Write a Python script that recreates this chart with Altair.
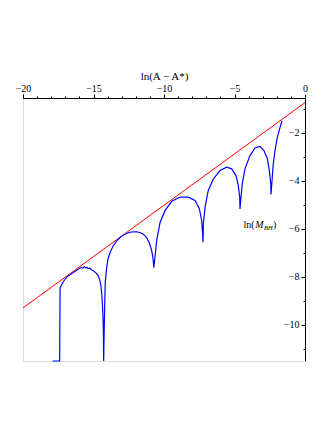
import altair as alt
import pandas as pd

# Blue curve: ln(M_BH) vs ln(A - A*)
blue_x = [-17.9, -17.40, -17.37, -17.3, -17.14, -16.9, -16.7, -16.55, -16.4, -16.19,
          -16.05, -15.95, -15.84, -15.75, -15.65, -15.55, -15.48, -15.38, -15.28, -15.13,
          -15.0, -14.89, -14.75, -14.66, -14.56, -14.49, -14.42, -14.38, -14.33, -14.3,
          -14.28, -14.25, -14.2, -14.17, -14.1, -14.04, -13.95, -13.8, -13.6, -13.35,
          -13.12, -12.9, -12.65, -12.4, -12.18, -11.95, -11.7, -11.5, -11.35, -11.2,
          -11.06, -10.95, -10.87, -10.8, -10.76, -10.72,
          -10.64, -10.52, -10.28, -9.93, -9.45, -8.87, -8.28, -7.8, -7.49, -7.33, -7.26, -7.23,
          -7.21, -7.09, -6.86, -6.5, -6.03, -5.55, -5.2, -4.89, -4.73, -4.63, -4.61,
          -4.54, -4.45, -4.26, -3.9, -3.55, -3.19, -2.91, -2.67, -2.53, -2.43, -2.41,
          -2.32, -2.25, -2.13, -1.96, -1.77, -1.63]
blue_y = [-11.5, -11.5, -8.45, -8.38, -8.2, -8.0, -7.92, -7.87, -7.8, -7.72,
          -7.66, -7.63, -7.6, -7.64, -7.58, -7.62, -7.6, -7.66, -7.63, -7.7,
          -7.75, -7.8, -7.88, -7.96, -8.12, -8.3, -8.65, -9.0, -9.6, -10.2,
          -11.5, -10.5, -9.0, -8.28, -7.8, -7.5, -7.2, -6.95, -6.7, -6.5,
          -6.36, -6.26, -6.19, -6.14, -6.12, -6.12, -6.15, -6.21, -6.28, -6.4,
          -6.56, -6.75, -6.92, -7.15, -7.34, -7.62,
          -7.18, -6.49, -5.73, -5.24, -4.85, -4.68, -4.68, -4.82, -5.17, -5.65, -6.21, -6.56,
          -5.79, -5.1, -4.4, -3.92, -3.57, -3.43, -3.5, -3.78, -4.2, -4.68, -5.17,
          -4.68, -4.13, -3.5, -2.95, -2.63, -2.57, -2.74, -3.08, -3.57, -4.13, -4.57,
          -3.85, -3.29, -2.74, -2.18, -1.77, -1.49]

# Red straight line
red_x = [-20, 0]
red_y = [-9.29, -0.74]

x_domain = [-20, 0]
y_domain = [-11.5, -0.55]
x_major = [-20, -15, -10, -5, 0]
x_minor = list(range(-20, 1))
y_major = [-2, -4, -6, -8, -10]
y_minor = [-1, -3, -5, -7, -9, -11]

ann_x = [-3.26]
ann_y = [-5.95]

blue = pd.DataFrame({"x": blue_x, "y": blue_y, "i": list(range(len(blue_x)))})
red = pd.DataFrame({"x": red_x, "y": red_y})
ann = pd.DataFrame({"x": ann_x, "y": ann_y})

SERIF = "Liberation Serif"
W, H = 282, 263

xs = alt.Scale(domain=x_domain, nice=False, zero=False)
ys = alt.Scale(domain=y_domain, nice=False, zero=False)

x_axis_major = alt.Axis(orient="top", values=x_major, tickSize=4, labelPadding=1,
                        title="ln(A − A*)", titleFont=SERIF, titleFontSize=11,
                        titleFontWeight="normal", titlePadding=2, titleColor="black",
                        labelFont=SERIF, labelFontSize=10, labelColor="black",
                        domainColor="black", tickColor="black", grid=False,
                        labelFlush=False)
x_axis_minor = alt.Axis(orient="top", values=x_minor, tickSize=2, labels=False,
                        domain=False, title="", tickColor="black", grid=False)
y_axis_major = alt.Axis(orient="left", offset=-W, values=y_major, tickSize=4,
                        labelPadding=2, title="", labelFont=SERIF, labelFontSize=10,
                        labelColor="black", domainColor="black", tickColor="black",
                        grid=False)
y_axis_minor = alt.Axis(orient="left", offset=-W, values=y_minor, tickSize=2,
                        labels=False, domain=False, title="", tickColor="black",
                        grid=False)

blue_line = alt.Chart(blue).mark_line(color="#0000ff", strokeWidth=1.2).encode(
    x=alt.X("x:Q", scale=xs, axis=x_axis_major),
    y=alt.Y("y:Q", scale=ys, axis=y_axis_major),
    order="i:Q",
)
red_line = alt.Chart(red).mark_line(color="#ff0000", strokeWidth=1.0).encode(
    x=alt.X("x:Q", scale=xs, axis=x_axis_minor),
    y=alt.Y("y:Q", scale=ys, axis=y_axis_minor),
)

base_ann = alt.Chart(ann).encode(x=alt.X("x:Q", scale=xs, axis=None),
                                 y=alt.Y("y:Q", scale=ys, axis=None))
t1 = base_ann.mark_text(text="ln(", font=SERIF, fontSize=10, align="left",
                        baseline="alphabetic", dx=-15.5, color="black")
t2 = base_ann.mark_text(text="M", font=SERIF, fontSize=10, fontStyle="italic",
                        align="left", baseline="alphabetic", dx=-3.8, color="black")
t3 = base_ann.mark_text(text="BH", font=SERIF, fontSize=6.5, fontStyle="italic",
                        align="left", baseline="alphabetic", dx=5, dy=2, color="black")
t4 = base_ann.mark_text(text=")", font=SERIF, fontSize=10, align="left",
                        baseline="alphabetic", dx=14, color="black")

chart = alt.layer(red_line, blue_line, t1, t2, t3, t4).resolve_axis(
    x="independent", y="independent"
).properties(
    width=W, height=H,
    autosize=alt.AutoSizeParams(type="none"),
    padding={"left": 15, "top": 90, "right": 10, "bottom": 10},
).configure_view(stroke=None).configure(background="white")

chart.save("out.html", embed_options={"renderer": "svg", "actions": False})
